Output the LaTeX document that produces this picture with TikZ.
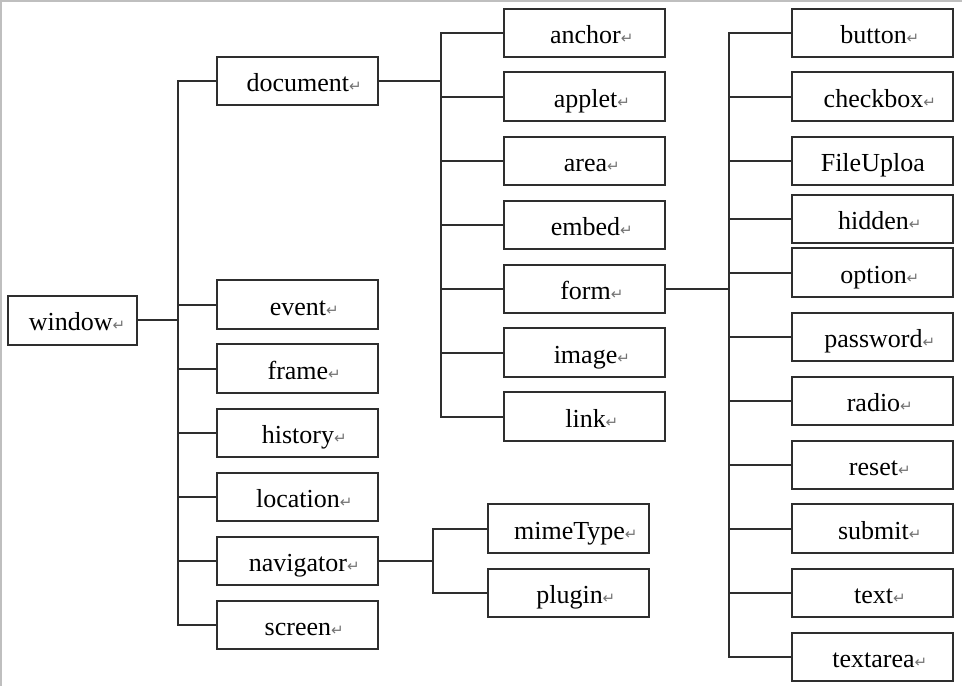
\documentclass[tikz,border=0pt]{standalone}
\usepackage{fontspec}
\setmainfont{Liberation Serif}
\newfontfamily\retfont{DejaVu Sans}
\newcommand{\retmark}{{\retfont\fontsize{15}{15}\selectfont\color{black!55}↵}}
\tikzset{
  objbox/.style={draw=black!82, line width=2pt, rectangle, minimum width=161pt,
    minimum height=48.5pt, inner sep=0pt, text height=21pt, text depth=0pt,
    font=\fontsize{26}{26}\selectfont},
  conn/.style={draw=black!82, line width=2pt}
}
\newcommand{\lbl}[1]{\hspace*{14pt}#1\retmark}
\begin{document}
\begin{tikzpicture}[x=1pt,y=-1pt]
\useasboundingbox (0,0) rectangle (962,686);
\draw[black!25, line width=3pt] (0,686) -- (0,0) -- (962,0);
% root
\node[objbox, minimum width=129pt] (window) at (72.5,320.3) {\hspace*{9pt}window\retmark};
% column 2
\node[objbox] (document) at (297.2,81) {\lbl{document}};
\node[objbox] (event) at (297.2,304.5) {\lbl{event}};
\node[objbox] (frame) at (297.2,368.5) {\lbl{frame}};
\node[objbox] (history) at (297.2,432.8) {\lbl{history}};
\node[objbox] (location) at (297.2,496.8) {\lbl{location}};
\node[objbox] (navigator) at (297.2,561) {\lbl{navigator}};
\node[objbox] (screen) at (297.2,625) {\lbl{screen}};
% column 3
\node[objbox] (anchor) at (584.8,33.1) {\lbl{anchor}};
\node[objbox] (applet) at (584.8,96.7) {\lbl{applet}};
\node[objbox] (area) at (584.8,160.8) {\lbl{area}};
\node[objbox] (embed) at (584.8,224.8) {\lbl{embed}};
\node[objbox] (form) at (584.8,288.8) {\lbl{form}};
\node[objbox] (image) at (584.8,352.7) {\lbl{image}};
\node[objbox] (link) at (584.8,416.7) {\lbl{link}};
% navigator children
\node[objbox] (mimetype) at (568.8,528.7) {\lbl{mimeType}};
\node[objbox] (plugin) at (568.8,593) {\lbl{plugin}};
% column 4
\node[objbox] (button) at (872.8,33.1) {\lbl{button}};
\node[objbox] (checkbox) at (872.8,96.7) {\lbl{checkbox}};
\node[objbox] (fileupload) at (872.8,160.8) {FileUploa};
\node[objbox] (hidden) at (872.8,219.2) {\lbl{hidden}};
\node[objbox] (option) at (872.8,272.7) {\lbl{option}};
\node[objbox] (password) at (872.8,337) {\lbl{password}};
\node[objbox] (radio) at (872.8,401) {\lbl{radio}};
\node[objbox] (reset) at (872.8,465.2) {\lbl{reset}};
\node[objbox] (submit) at (872.8,528.7) {\lbl{submit}};
\node[objbox] (text) at (872.8,593) {\lbl{text}};
\node[objbox] (textarea) at (872.8,657.2) {\lbl{textarea}};
% connectors
\draw[conn] (window.east) -- ++(39.7,0) coordinate (b1);
\foreach \c in {document,event,frame,history,location,navigator,screen}
  \draw[conn] (b1) |- (\c.west);
\draw[conn] (document.east) -- ++(62.6,0) coordinate (b2);
\foreach \c in {anchor,applet,area,embed,form,image,link}
  \draw[conn] (b2) |- (\c.west);
\draw[conn] (form.east) -- ++(63,0) coordinate (b3);
\foreach \c in {button,checkbox,fileupload,hidden,option,password,radio,reset,submit,text,textarea}
  \draw[conn] (b3) |- (\c.west);
\draw[conn] (navigator.east) -- ++(54.6,0) coordinate (b4);
\foreach \c in {mimetype,plugin}
  \draw[conn] (b4) |- (\c.west);
\end{tikzpicture}
\end{document}
